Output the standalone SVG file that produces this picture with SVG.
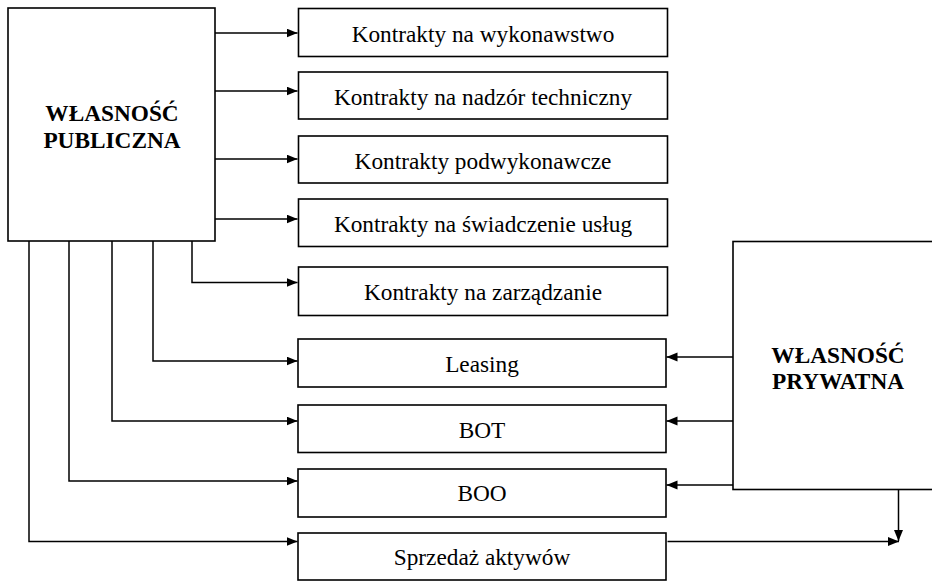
<svg xmlns="http://www.w3.org/2000/svg" width="932" height="581" viewBox="0 0 932 581">
<defs>
<marker id="ah" markerUnits="userSpaceOnUse" markerWidth="12" markerHeight="10" refX="11" refY="4.5" orient="auto">
<path d="M0,0 L11,4.5 L0,9 z" fill="#000"/>
</marker>
</defs>
<style>
.box{fill:#fff;stroke:#000;stroke-width:1.6}
.t{font-family:"Liberation Serif","Times New Roman",serif;font-size:23.3px;fill:#000;text-anchor:middle}
.b{font-weight:bold}
.c{fill:none;stroke:#000;stroke-width:1.5}
</style>
<rect width="932" height="581" fill="#fff"/>
<g id="connectors">
<path class="c" d="M215,33 H297.5" marker-end="url(#ah)"/>
<path class="c" d="M215,91 H297.5" marker-end="url(#ah)"/>
<path class="c" d="M215,159 H297.5" marker-end="url(#ah)"/>
<path class="c" d="M215,219 H297.5" marker-end="url(#ah)"/>
<path class="c" d="M192,241 V282.5 H297.5" marker-end="url(#ah)"/>
<path class="c" d="M153,241 V361 H297.5" marker-end="url(#ah)"/>
<path class="c" d="M112,241 V421 H297.5" marker-end="url(#ah)"/>
<path class="c" d="M69,241 V481 H297.5" marker-end="url(#ah)"/>
<path class="c" d="M29,241 V541.5 H297.5" marker-end="url(#ah)"/>
<path class="c" d="M733,357 H666.5" marker-end="url(#ah)"/>
<path class="c" d="M733,421 H666.5" marker-end="url(#ah)"/>
<path class="c" d="M733,485 H666.5" marker-end="url(#ah)"/>
<path class="c" d="M667.5,541.5 H899" marker-end="url(#ah)"/>
<path class="c" d="M898.5,489 V541" marker-end="url(#ah)"/>
</g>
<g id="public">
<rect class="box" x="8" y="8" width="207" height="233"/>
<text class="t b" x="112" y="120.5">WŁASNOŚĆ</text>
<text class="t b" x="112" y="147.5">PUBLICZNA</text>
</g>
<g id="private">
<rect class="box" x="733" y="241.5" width="210" height="248"/>
<text class="t b" x="838" y="362.5">WŁASNOŚĆ</text>
<text class="t b" x="838" y="388.5">PRYWATNA</text>
</g>
<g id="k1">
<rect class="box" x="298.5" y="8.5" width="369" height="48"/>
<text class="t" x="483" y="41.5">Kontrakty na wykonawstwo</text>
</g>
<g id="k2">
<rect class="box" x="298.5" y="72" width="369" height="47"/>
<text class="t" x="483" y="104.5">Kontrakty na nadzór techniczny</text>
</g>
<g id="k3">
<rect class="box" x="298.5" y="136" width="369" height="47"/>
<text class="t" x="483" y="168.5">Kontrakty podwykonawcze</text>
</g>
<g id="k4">
<rect class="box" x="298.5" y="199" width="369" height="47.5"/>
<text class="t" x="483" y="232">Kontrakty na świadczenie usług</text>
</g>
<g id="k5">
<rect class="box" x="298.5" y="267" width="369" height="48.5"/>
<text class="t" x="483" y="299.5">Kontrakty na zarządzanie</text>
</g>
<g id="leasing">
<rect class="box" x="298" y="339" width="368" height="48"/>
<text class="t" x="482" y="371.5">Leasing</text>
</g>
<g id="bot">
<rect class="box" x="298" y="405" width="368" height="47.5"/>
<text class="t" x="482" y="437.5">BOT</text>
</g>
<g id="boo">
<rect class="box" x="298" y="469" width="368" height="48"/>
<text class="t" x="482" y="501">BOO</text>
</g>
<g id="sprzedaz">
<rect class="box" x="298" y="533" width="368" height="47"/>
<text class="t" x="482" y="565">Sprzedaż aktywów</text>
</g>
</svg>
